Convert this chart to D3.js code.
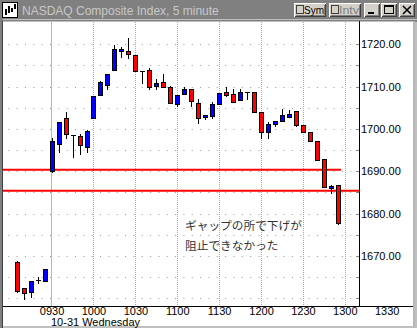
<!DOCTYPE html>
<html>
<head>
<meta charset="utf-8">
<script src="https://cdn.jsdelivr.net/npm/d3@7"></script>
<style>
  html, body { margin: 0; padding: 0; background: #c0c0c0; }
  svg { display: block; }
</style>
</head>
<body>
<div id="chart"></div>
<script>
// 5 minute bars: last bars of 10-30, then the 10-31 session
const times = ["10-30 15:35", "10-30 15:40", "10-30 15:45", "10-30 15:50", "10-30 15:55",
  "10-31 09:30", "10-31 09:35", "10-31 09:40", "10-31 09:45", "10-31 09:50", "10-31 09:55",
  "10-31 10:00", "10-31 10:05", "10-31 10:10", "10-31 10:15", "10-31 10:20", "10-31 10:25",
  "10-31 10:30", "10-31 10:35", "10-31 10:40", "10-31 10:45", "10-31 10:50", "10-31 10:55",
  "10-31 11:00", "10-31 11:05", "10-31 11:10", "10-31 11:15", "10-31 11:20", "10-31 11:25",
  "10-31 11:30", "10-31 11:35", "10-31 11:40", "10-31 11:45", "10-31 11:50", "10-31 11:55",
  "10-31 12:00", "10-31 12:05", "10-31 12:10", "10-31 12:15", "10-31 12:20", "10-31 12:25",
  "10-31 12:30", "10-31 12:35", "10-31 12:40", "10-31 12:45", "10-31 12:50", "10-31 12:55"];
const open  = [1668.6, 1662.4, 1661.4, 1664.3, 1664.2,
  1690.0, 1696.4, 1702.5, 1698.6, 1698.3, 1695.7, 1702.5, 1708.1, 1710.3, 1713.9, 1718.3, 1718.4,
  1717.5, 1713.6, 1713.9, 1710.2, 1711.0, 1709.8, 1706.0, 1708.3, 1709.4, 1706.1, 1702.8, 1703.0,
  1706.0, 1708.7, 1708.2, 1706.9, 1708.7, 1708.7, 1703.9, 1699.4, 1701.1, 1702.0, 1702.8, 1704.2,
  1700.9, 1699.2, 1697.1, 1692.8, 1686.0, 1686.7];
const high  = [1668.8, 1662.4, 1664.0, 1665.0, 1666.9,
  1697.8, 1701.6, 1703.9, 1698.6, 1698.9, 1699.7, 1707.8, 1711.3, 1713.1, 1719.8, 1719.4, 1721.5,
  1717.5, 1713.6, 1714.3, 1711.8, 1713.1, 1710.2, 1708.0, 1709.8, 1709.4, 1707.1, 1703.3, 1706.4,
  1708.4, 1709.8, 1709.5, 1709.5, 1708.7, 1708.7, 1703.9, 1701.6, 1701.9, 1704.7, 1704.5, 1704.2,
  1700.9, 1699.2, 1697.1, 1692.8, 1686.7, 1686.7];
const low   = [1661.6, 1659.9, 1660.4, 1663.7, 1664.2,
  1689.8, 1694.6, 1697.9, 1693.5, 1694.0, 1694.6, 1702.5, 1708.0, 1709.5, 1713.9, 1717.1, 1716.8,
  1713.6, 1710.9, 1709.4, 1709.4, 1709.8, 1706.1, 1705.4, 1708.3, 1705.5, 1701.5, 1702.3, 1702.5,
  1706.0, 1707.8, 1706.4, 1706.9, 1707.0, 1703.9, 1697.9, 1697.9, 1700.8, 1702.0, 1702.8, 1700.8,
  1699.4, 1697.2, 1692.6, 1686.2, 1684.8, 1677.6];
const close = [1661.7, 1661.2, 1664.0, 1664.3, 1666.9,
  1697.2, 1701.6, 1698.7, 1698.6, 1696.1, 1699.5, 1707.8, 1711.0, 1713.1, 1718.8, 1718.9, 1717.6,
  1713.6, 1713.6, 1710.0, 1710.8, 1709.8, 1706.1, 1708.0, 1709.4, 1706.5, 1702.5, 1703.3, 1705.9,
  1708.4, 1708.0, 1706.4, 1708.7, 1708.7, 1703.9, 1699.4, 1701.2, 1701.9, 1703.3, 1703.5, 1701.0,
  1699.4, 1697.2, 1692.6, 1686.2, 1686.5, 1677.9];

const timeTicks = ["0930", "1000", "1030", "1100", "1130", "1200", "1230", "1300", "1330"];
const priceTicks = [1670, 1680, 1690, 1700, 1710, 1720];
const gridLevels = d3.range(1660, 1721, 5);
const gapTop = 1690.4;
const gapBottom = 1685.4;
const dayLabel = "10-31 Wednesday";
const title = "NASDAQ Composite Index, 5 minute";
const note = ["ギャップの所で下げが", "阻止できなかった"];

// slot index: 0 = 09:30 of the session, prior day counted back from 16:00
function slotOf(t) {
  const [day, hm] = t.split(" ");
  const [h, m] = hm.split(":").map(Number);
  const mins = h * 60 + m;
  return day === "10-31" ? (mins - 570) / 5 : (mins - 960) / 5;
}
function tickSlot(s) {
  const h = +s.slice(0, 2), m = +s.slice(2);
  return (h * 60 + m - 570) / 5;
}

const bars = times.map((t, i) => ({
  slot: slotOf(t), o: open[i], h: high[i], l: low[i], c: close[i]
}));

const width = 417, height = 328;
const plotLeft = 3, plotRight = 359, plotTop = 22, plotBottom = 306, frameRight = 413;

const x = d3.scaleLinear().domain([0, 48]).range([51.6, 386.7]);
const y = d3.scaleLinear().domain([1670, 1720]).range([256, 44.3]);

const svg = d3.select("#chart").append("svg")
  .attr("width", width).attr("height", height)
  .attr("viewBox", [0, 0, width, height])
  .style("font-family", "'Liberation Sans', Arial, sans-serif");

// window frame
svg.append("rect").attr("width", width).attr("height", height).attr("fill", "#c0c0c0");
svg.append("rect").attr("x", 0).attr("y", 0).attr("width", width).attr("height", 19).attr("fill", "#808080");
svg.append("rect").attr("x", 0).attr("y", 20.5).attr("width", width).attr("height", 1).attr("fill", "#404040");
svg.append("rect").attr("x", 3).attr("y", 21.5).attr("width", frameRight - 3).attr("height", 326 - 21.5).attr("fill", "#fff");
svg.append("rect").attr("x", 0).attr("y", 19).attr("width", 3).attr("height", height - 19).attr("fill", "#808080");
svg.append("rect").attr("x", 2).attr("y", 21).attr("width", 1).attr("height", height - 21).attr("fill", "#404040");
svg.append("rect").attr("x", frameRight).attr("y", 21).attr("width", 2).attr("height", height - 21).attr("fill", "#b8b8b8");

// title bar
const icon = svg.append("g").attr("shape-rendering", "crispEdges");
icon.append("rect").attr("x", 2.5).attr("y", 2.5).attr("width", 15).attr("height", 15)
  .attr("fill", "#fff").attr("stroke", "#000");
[[5, 9, 15], [8, 6, 13], [11, 8, 12], [14, 4, 9]].forEach(([cx, y1, y2]) => {
  icon.append("line").attr("x1", cx + 0.5).attr("x2", cx + 0.5).attr("y1", y1).attr("y2", y2)
    .attr("stroke", "#000").attr("stroke-width", 2);
});
svg.append("text").attr("x", 22).attr("y", 15).attr("font-size", 12).attr("fill", "#c8c8c8")
  .text(title);

function button(x0, w) {
  const g = svg.append("g").attr("shape-rendering", "crispEdges");
  g.append("rect").attr("x", x0).attr("y", 3).attr("width", w).attr("height", 14).attr("fill", "#d4d0c8");
  g.append("path").attr("d", `M${x0 + 0.5},${16.5}V${3.5}H${x0 + w - 0.5}`).attr("fill", "none").attr("stroke", "#fff");
  g.append("path").attr("d", `M${x0 + 0.5},${16.5}H${x0 + w - 0.5}V${3.5}`).attr("fill", "none").attr("stroke", "#404040");
  g.append("path").attr("d", `M${x0 + 1.5},${15.5}H${x0 + w - 1.5}V${4.5}`).attr("fill", "none").attr("stroke", "#808080");
  return g;
}
[[294, "Sym", "#000"], [329, "Intv", "#808080"]].forEach(([bx, label, col]) => {
  const g = button(bx, 32);
  g.append("rect").attr("x", bx + 2.5).attr("y", 5.5).attr("width", 7).attr("height", 8)
    .attr("fill", "#d4d0c8").attr("stroke", "#404040");
  g.append("text").attr("x", bx + 10).attr("y", 14).attr("font-size", 11).attr("fill", col)
    .attr("textLength", 20).attr("lengthAdjust", "spacingAndGlyphs").text(label);
});
const bMin = button(364, 16);
bMin.append("rect").attr("x", 368).attr("y", 12).attr("width", 6).attr("height", 2).attr("fill", "#000");
const bMax = button(381, 16);
bMax.append("rect").attr("x", 384.5).attr("y", 5.5).attr("width", 9).attr("height", 8)
  .attr("fill", "none").attr("stroke", "#000");
bMax.append("rect").attr("x", 384).attr("y", 5).attr("width", 10).attr("height", 2).attr("fill", "#000");
const bClose = button(399, 16);
bClose.append("path").attr("d", "M403,6L411,14M411,6L403,14").attr("stroke", "#000")
  .attr("stroke-width", 1.6).attr("shape-rendering", "geometricPrecision");

// grid
const grid = svg.append("g");
grid.selectAll("line.h").data(gridLevels).join("line").attr("class", "h")
  .attr("x1", plotLeft).attr("x2", plotRight)
  .attr("y1", d => Math.round(y(d)) + 0.5).attr("y2", d => Math.round(y(d)) + 0.5)
  .attr("stroke", "#999").attr("stroke-dasharray", "1 7.34").attr("stroke-dashoffset", -5.3);
grid.selectAll("line.v").data(timeTicks.slice(1, 8)).join("line").attr("class", "v")
  .attr("x1", d => Math.round(x(tickSlot(d))) + 0.5).attr("x2", d => Math.round(x(tickSlot(d))) + 0.5)
  .attr("y1", plotTop).attr("y2", plotBottom)
  .attr("stroke", "#aaa").attr("stroke-dasharray", "1 1");
grid.append("line")
  .attr("x1", Math.round(x(0)) - 0.5).attr("x2", Math.round(x(0)) - 0.5)
  .attr("y1", plotTop).attr("y2", plotBottom)
  .attr("stroke", "#b8b8b8");

// gap lines
svg.append("line").attr("x1", plotLeft).attr("x2", Math.round(x(41)) + 3)
  .attr("y1", y(gapTop)).attr("y2", y(gapTop))
  .attr("stroke", "#ff0000").attr("stroke-width", 2);
svg.append("line").attr("x1", plotLeft).attr("x2", plotRight)
  .attr("y1", y(gapBottom)).attr("y2", y(gapBottom))
  .attr("stroke", "#ff0000").attr("stroke-width", 2);

// candles
const candles = svg.append("g").attr("shape-rendering", "crispEdges")
  .selectAll("g").data(bars).join("g");
candles.append("line")
  .attr("x1", d => Math.round(x(d.slot)) + 0.5).attr("x2", d => Math.round(x(d.slot)) + 0.5)
  .attr("y1", d => Math.round(y(d.h))).attr("y2", d => Math.round(y(d.l)) + 1)
  .attr("stroke", "#000");
candles.each(function(d) {
  const g = d3.select(this);
  const cx = Math.round(x(d.slot));
  const top = Math.round(y(Math.max(d.o, d.c)));
  const bot = Math.round(y(Math.min(d.o, d.c)));
  if (bot - top < 1) {
    g.append("line").attr("x1", cx - 2).attr("x2", cx + 3)
      .attr("y1", top + 0.5).attr("y2", top + 0.5).attr("stroke", "#000");
  } else {
    g.append("rect").attr("x", cx - 1.5).attr("y", top + 0.5)
      .attr("width", 4).attr("height", bot - top)
      .attr("fill", d.c > d.o ? "#0000ff" : "#ff0000").attr("stroke", "#000");
  }
});

// axes
svg.append("g").attr("transform", `translate(${plotRight},0)`)
  .call(d3.axisRight(y).tickValues(priceTicks).tickFormat(d3.format(".2f")).tickSize(0).tickPadding(2))
  .call(g => g.select(".domain").remove())
  .call(g => g.selectAll(".tick text").attr("font-family", "'Liberation Sans', Arial, sans-serif")
    .attr("font-size", 11).attr("fill", "#000"));
svg.append("g").attr("shape-rendering", "crispEdges").selectAll("line").data(gridLevels).join("line")
  .attr("x1", plotRight - 3).attr("x2", plotRight)
  .attr("y1", d => Math.round(y(d)) + 0.5).attr("y2", d => Math.round(y(d)) + 0.5)
  .attr("stroke", "#888");
svg.append("g").attr("transform", `translate(0,${plotBottom})`)
  .call(d3.axisBottom(x).tickValues(timeTicks.map(tickSlot)).tickFormat((d, i) => timeTicks[i])
    .tickSize(0).tickPadding(1.5))
  .call(g => g.select(".domain").remove())
  .call(g => g.selectAll(".tick text").attr("font-family", "'Liberation Sans', Arial, sans-serif")
    .attr("font-size", 11).attr("fill", "#000"));
svg.append("line").attr("x1", plotRight + 0.5).attr("x2", plotRight + 0.5)
  .attr("y1", plotTop - 1).attr("y2", plotBottom).attr("stroke", "#000");
svg.append("line").attr("x1", plotLeft).attr("x2", frameRight)
  .attr("y1", plotBottom + 0.5).attr("y2", plotBottom + 0.5).attr("stroke", "#000");
svg.append("text").attr("x", Math.round(x(0)) - 1).attr("y", 325.5).attr("font-size", 11)
  .attr("fill", "#000").text(dayLabel);

// annotation
svg.append("g").selectAll("text").data(note).join("text")
  .attr("x", Math.round(x(19)) + 1)
  .attr("y", (d, i) => 230 + i * 20)
  .attr("font-family", "'Noto Sans CJK JP', sans-serif")
  .attr("font-size", 11.7).attr("fill", "#333")
  .text(d => d);
</script>
</body>
</html>
